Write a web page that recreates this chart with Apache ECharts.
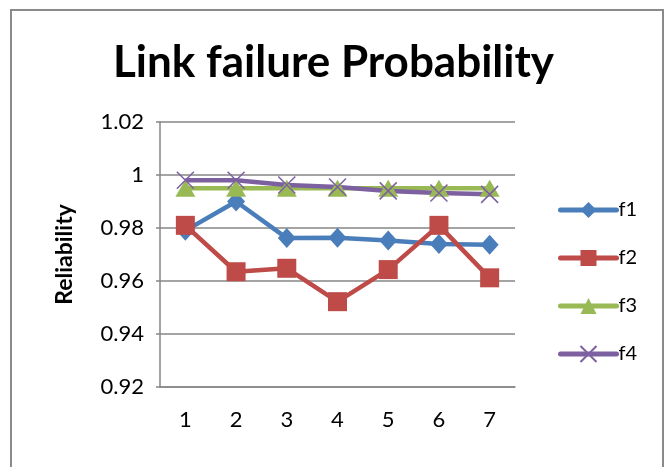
<!DOCTYPE html>
<html>
<head>
<meta charset="utf-8">
<script src="https://cdn.jsdelivr.net/npm/echarts@6/dist/echarts.min.js"></script>
<style>
  html, body { margin: 0; padding: 0; background: #fff; }
  #chart { width: 667px; height: 467px; }
</style>
</head>
<body>
<div id="chart"></div>
<script>
// Link failure reliability per scenario
const categories = ['1', '2', '3', '4', '5', '6', '7'];
const f1 = [0.979, 0.990, 0.9762, 0.9763, 0.9753, 0.9740, 0.9737];
const f2 = [0.981, 0.9635, 0.9648, 0.9522, 0.9643, 0.981, 0.9612];
const f3 = [0.995, 0.995, 0.995, 0.995, 0.995, 0.995, 0.995];
const f4 = [0.998, 0.998, 0.9962, 0.9955, 0.994, 0.9932, 0.9927];
const seriesNames = ['f1', 'f2', 'f3', 'f4'];
const yTicks = { min: 0.92, max: 1.02, step: 0.02 };

const FONT = 'Lato';
const crossPath = 'path://M0,0L10,10M10,0L0,10';

function lineSeries(name, data, color, symbol, size, extra) {
  return Object.assign({
    name: name,
    type: 'line',
    data: data,
    symbol: symbol,
    symbolSize: size,
    lineStyle: { color: color, width: 4.5 },
    itemStyle: { color: color },
    emphasis: { disabled: true },
    animation: false
  }, extra || {});
}

const chart = echarts.init(document.getElementById('chart'));
chart.setOption({
  backgroundColor: '#fff',
  animation: false,
  graphic: [{
    type: 'rect',
    shape: { x: 11, y: 10, width: 652, height: 480 },
    style: { fill: 'none', stroke: '#8a8a8a', lineWidth: 2 },
    silent: true
  }],
  title: {
    text: 'Link failure Probability',
    left: 'center',
    top: 36,
    textStyle: { fontFamily: FONT, fontWeight: 'bold', fontSize: 44, color: '#000' }
  },
  grid: { left: 160, right: 152, top: 122, bottom: 80 },
  legend: {
    orient: 'vertical',
    left: 553,
    top: 195,
    itemWidth: 56,
    itemHeight: 20,
    itemGap: 28,
    data: seriesNames,
    lineStyle: { width: 5, cap: 'round' },
    textStyle: { fontFamily: FONT, fontSize: 20, color: '#000', padding: [0, 0, 0, -3] }
  },
  xAxis: {
    type: 'category',
    data: categories,
    boundaryGap: true,
    axisLine: { lineStyle: { color: '#868686', width: 1.5 } },
    axisTick: { show: false },
    axisLabel: { fontFamily: FONT, fontSize: 22, color: '#000', margin: 22 }
  },
  yAxis: {
    type: 'value',
    min: yTicks.min,
    max: yTicks.max,
    interval: yTicks.step,
    name: 'Reliability',
    nameLocation: 'middle',
    nameRotate: 90,
    nameGap: 84,
    nameTextStyle: { fontFamily: FONT, fontWeight: 'bold', fontSize: 23, color: '#000' },
    axisLine: { show: true, lineStyle: { color: '#868686', width: 1.5 } },
    axisTick: { show: true, inside: false, length: 4, lineStyle: { color: '#868686', width: 1.5 } },
    splitLine: { lineStyle: { color: '#868686', width: 1.5 } },
    axisLabel: {
      fontFamily: FONT, fontSize: 22, color: '#000', margin: 16,
      formatter: v => String(parseFloat(v.toFixed(2)))
    }
  },
  series: [
    lineSeries('f1', f1, '#4A7EBB', 'diamond', [18, 20]),
    lineSeries('f2', f2, '#BE4B48', 'rect', 19),
    lineSeries('f3', f3, '#98B954', 'triangle', [20, 17]),
    lineSeries('f4', f4, '#7D60A0', crossPath, 17, {
      itemStyle: { color: '#7D60A0', borderColor: '#7D60A0', borderWidth: 1.5 }
    })
  ]
});
</script>
</body>
</html>
